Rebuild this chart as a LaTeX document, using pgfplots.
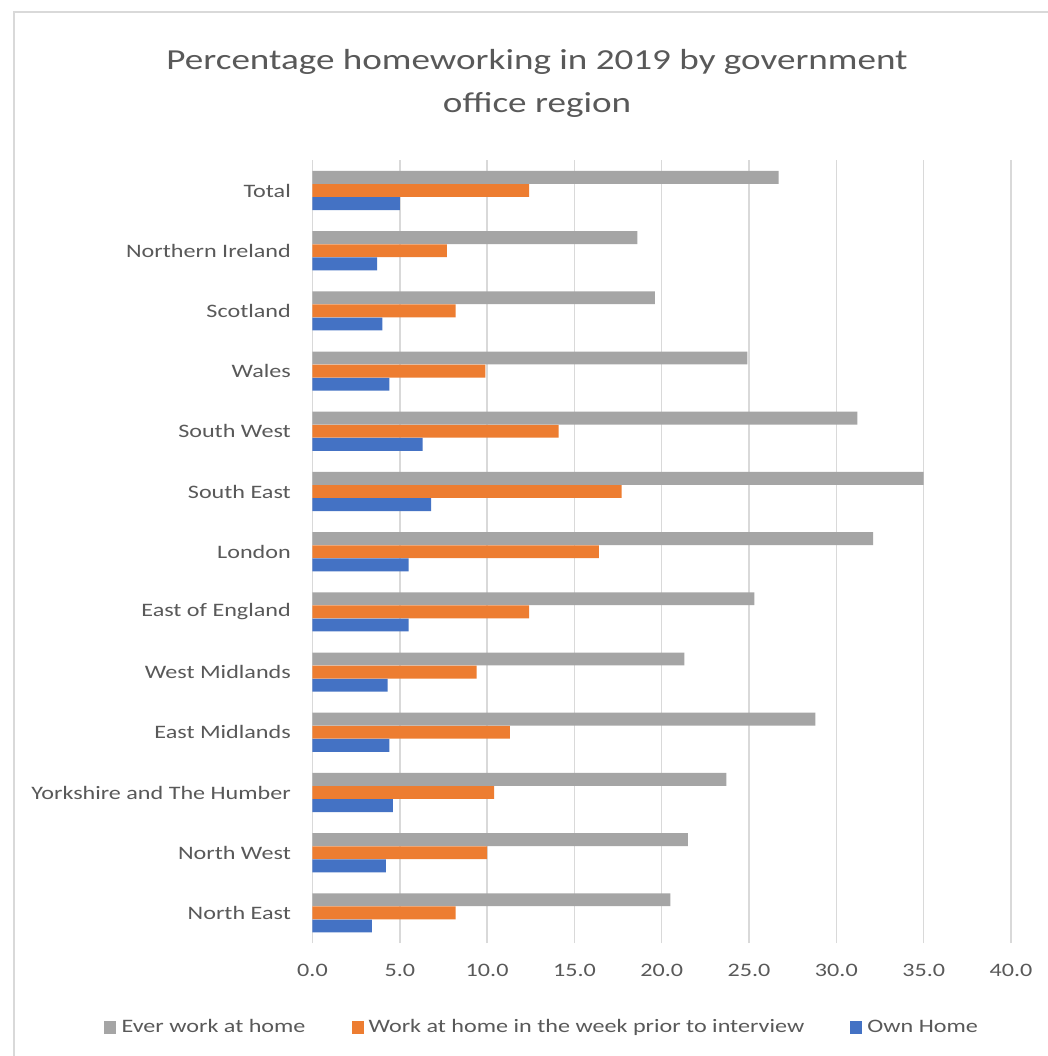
\documentclass[border=0pt]{standalone}
\usepackage{fontspec}
\setmainfont{Carlito}
\usepackage{pgfplots}
\pgfplotsset{compat=1.18}
\definecolor{cgray}{HTML}{A5A5A5}
\definecolor{corange}{HTML}{ED7D31}
\definecolor{cblue}{HTML}{4472C4}
\definecolor{ctext}{HTML}{595959}
\definecolor{cgrid}{HTML}{D9D9D9}
\begin{document}
\begin{tikzpicture}
\useasboundingbox (0,0) rectangle (524pt,528pt);
\fill[white] (0,0) rectangle (524pt,528pt);
\draw[cgrid, line width=0.75pt] (7pt,0) -- (7pt,522pt) -- (524pt,522pt);
\node[text=ctext, align=center, xscale=1.28, font=\fontsize{14.5}{21.5}\selectfont] at (268.5pt,486.5pt)
  {Percentage homeworking in 2019 by government\\office region};
\begin{axis}[
  at={(156.25pt,56.5pt)}, anchor=south west,
  scale only axis, width=349.25pt, height=391.3pt,
  xmin=0, xmax=40, ymin=-0.5, ymax=12.5,
  xtick={0,5,...,40},
  ytick={0,...,12},
  yticklabels={North East,North West,Yorkshire and The Humber,East Midlands,West Midlands,East of England,London,South East,South West,Wales,Scotland,Northern Ireland,Total},
  /pgf/number format/fixed, /pgf/number format/fixed zerofill,
  /pgf/number format/precision=1, /pgf/number format/assume math mode=true,
  xticklabel style={text=ctext, xscale=1.27, font=\fontsize{9.5}{11}\selectfont, yshift=-7pt},
  yticklabel style={text=ctext, xscale=1.27, font=\fontsize{9.5}{11}\selectfont, xshift=-5pt},
  xmajorgrids, grid style={cgrid, line width=0.75pt},
  axis line style={draw=none},
  major tick length=0pt,
  xbar, bar width=0.214,
  legend columns=3,
  legend style={at={(0.331,-0.108)}, anchor=center, draw=none, fill=none,
    font=\fontsize{9.5}{11}\selectfont, text=ctext,
    nodes={xscale=1.27},
    /tikz/every even column/.append style={column sep=20.5pt}},
  legend image code/.code={\fill[#1, draw=none] (0pt,-3.2pt) rectangle (6pt,3.2pt);},
]
\addplot[fill=cgray, draw=none, bar shift=0.218] coordinates {
(20.5,0) (21.5,1) (23.7,2) (28.8,3) (21.3,4) (25.3,5) (32.1,6) (35.0,7) (31.2,8) (24.9,9) (19.6,10) (18.6,11) (26.7,12)};
\addlegendentry{Ever work at home}
\addplot[fill=corange, draw=none, bar shift=0] coordinates {
(8.2,0) (10.0,1) (10.4,2) (11.3,3) (9.4,4) (12.4,5) (16.4,6) (17.7,7) (14.1,8) (9.9,9) (8.2,10) (7.7,11) (12.4,12)};
\addlegendentry{Work at home in the week prior to interview}
\addplot[fill=cblue, draw=none, bar shift=-0.218] coordinates {
(3.4,0) (4.2,1) (4.6,2) (4.4,3) (4.3,4) (5.5,5) (5.5,6) (6.8,7) (6.3,8) (4.4,9) (4.0,10) (3.7,11) (5.0,12)};
\addlegendentry{Own Home}
\end{axis}
\end{tikzpicture}
\end{document}
